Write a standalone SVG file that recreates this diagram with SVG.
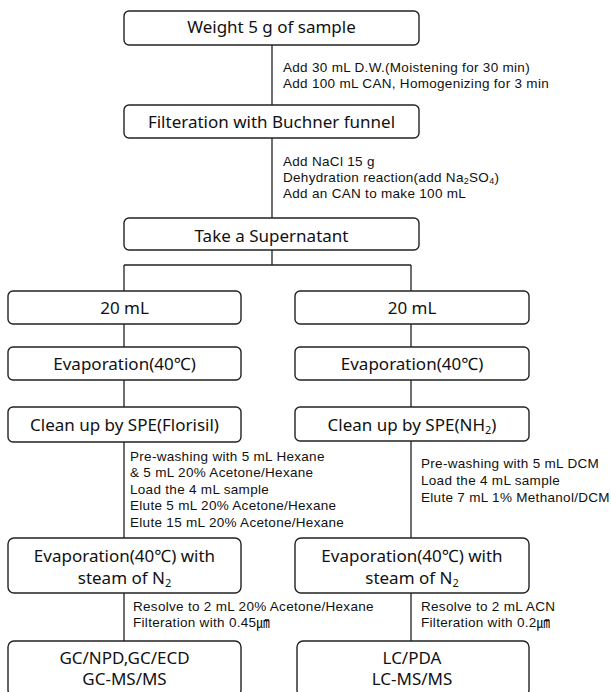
<svg xmlns="http://www.w3.org/2000/svg" width="611" height="692" viewBox="0 0 611 692">
<style>
.box{fill:#fff;stroke:#222;stroke-width:1.4}
.t{font-family:"Noto Sans","Noto Sans CJK KR",sans-serif;font-size:17px;fill:#111;text-anchor:middle}
.s{font-family:"Liberation Sans","Noto Sans CJK KR",sans-serif;font-size:13.5px;letter-spacing:0.3px;fill:#111}
.sub{font-size:11px}
.ssub{font-size:9px}
.ln{fill:none;stroke:#222;stroke-width:1.3}
</style>
<rect width="611" height="692" fill="#fff"/>
<g id="connectors">
<path class="ln" d="M272 45V105M272 138V218M272 250V265M124 265H411M124 265V291M411 265V291M124 324V347M411 324V347M124 380V407M411 380V407M124 442V538M411 441V538M124 593V641M411 593V641"/>
</g>
<g id="n1"><rect class="box" x="124" y="11" width="295" height="34" rx="5"/><text class="t" x="271.5" y="33">Weight 5 g of sample</text></g>
<g id="a1"><text class="s" x="283" y="72">Add 30 mL D.W.(Moistening for 30 min)</text><text class="s" x="283" y="88">Add 100 mL CAN, Homogenizing for 3 min</text></g>
<g id="n2"><rect class="box" x="124" y="105" width="295" height="33" rx="5"/><text class="t" x="271.5" y="128">Filteration with Buchner funnel</text></g>
<g id="a2"><text class="s" x="283" y="166">Add NaCl 15 g</text><text class="s" x="283" y="182">Dehydration reaction(add Na<tspan class="ssub" dy="2">2</tspan><tspan dy="-2">SO</tspan><tspan class="ssub" dy="2">4</tspan><tspan dy="-2">)</tspan></text><text class="s" x="283" y="198">Add an CAN to make 100 mL</text></g>
<g id="n3"><rect class="box" x="124" y="218" width="295" height="32" rx="5"/><text class="t" x="271.5" y="242">Take a Supernatant</text></g>
<g id="n4"><rect class="box" x="8" y="291" width="233" height="33" rx="5"/><text class="t" x="124.5" y="314">20 mL</text></g>
<g id="n5"><rect class="box" x="295" y="291" width="234" height="33" rx="5"/><text class="t" x="412" y="314">20 mL</text></g>
<g id="n6"><rect class="box" x="8" y="347" width="233" height="33" rx="5"/><text class="t" x="124.5" y="370">Evaporation(40℃)</text></g>
<g id="n7"><rect class="box" x="295" y="347" width="234" height="33" rx="5"/><text class="t" x="412" y="370">Evaporation(40℃)</text></g>
<g id="n8"><rect class="box" x="8" y="407" width="233" height="35" rx="5"/><text class="t" x="124.5" y="431">Clean up by SPE(Florisil)</text></g>
<g id="n9"><rect class="box" x="295" y="407" width="234" height="34" rx="5"/><text class="t" x="412" y="431">Clean up by SPE(NH<tspan class="sub" dy="3">2</tspan><tspan dy="-3">)</tspan></text></g>
<g id="a3"><text class="s" x="130" y="461">Pre-washing with 5 mL Hexane</text><text class="s" x="130" y="477">&amp; 5 mL 20% Acetone/Hexane</text><text class="s" x="130" y="494">Load the 4 mL sample</text><text class="s" x="130" y="510">Elute 5 mL 20% Acetone/Hexane</text><text class="s" x="130" y="527">Elute 15 mL 20% Acetone/Hexane</text></g>
<g id="a4"><text class="s" x="421" y="468">Pre-washing with 5 mL DCM</text><text class="s" x="421" y="485">Load the 4 mL sample</text><text class="s" x="421" y="502">Elute 7 mL 1% Methanol/DCM</text></g>
<g id="n10"><rect class="box" x="8" y="538" width="233" height="55" rx="6"/><text class="t" x="124.5" y="562">Evaporation(40℃) with</text><text class="t" x="124.5" y="584">steam of N<tspan class="sub" dy="3">2</tspan></text></g>
<g id="n11"><rect class="box" x="295" y="538" width="234" height="55" rx="6"/><text class="t" x="412" y="562">Evaporation(40℃) with</text><text class="t" x="412" y="584">steam of N<tspan class="sub" dy="3">2</tspan></text></g>
<g id="a5"><text class="s" x="133" y="611">Resolve to 2 mL 20% Acetone/Hexane</text><text class="s" x="133" y="627">Filteration with 0.45㎛</text></g>
<g id="a6"><text class="s" x="421" y="611">Resolve to 2 mL ACN</text><text class="s" x="421" y="627">Filteration with 0.2㎛</text></g>
<g id="n12"><rect class="box" x="8" y="641" width="233" height="55" rx="6"/><text class="t" x="124.5" y="664">GC/NPD,GC/ECD</text><text class="t" x="124.5" y="685">GC-MS/MS</text></g>
<g id="n13"><rect class="box" x="297" y="641" width="232" height="55" rx="6"/><text class="t" x="412" y="664">LC/PDA</text><text class="t" x="412" y="685">LC-MS/MS</text></g>
</svg>
